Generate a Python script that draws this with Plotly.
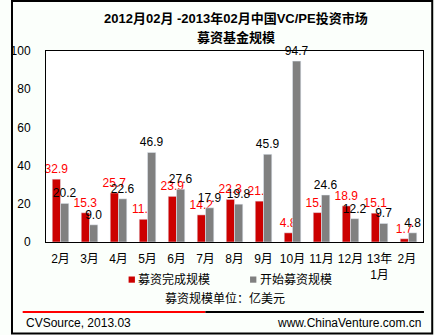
import plotly.graph_objects as go

months = ["2月", "3月", "4月", "5月", "6月", "7月", "8月", "9月", "10月", "11月", "12月", "13年<br>1月", "2月 "]
raised = [32.9, 15.3, 25.7, 11.9, 23.9, 14.2, 22.3, 21.4, 4.8, 15.4, 18.9, 15.1, 1.7]
started = [20.2, 9.0, 22.6, 46.9, 27.6, 17.9, 19.8, 45.9, 94.7, 24.6, 12.2, 9.7, 4.8]
y_ticks = [0, 20, 40, 60, 80, 100]
series_names = ["募资完成规模", "开始募资规模"]
series_colors = ["#CC0000", "#808080"]

W, H = 435, 335
L, R, T, B = 36, 424, 51, 242  # plot area in px

def px(x):
    return (x - L) / (R - L)

def py(y):
    return (B - y) / (B - T)

FONT = "Arial, Liberation Sans, Noto Sans CJK SC, sans-serif"

fig = go.Figure()
fig.add_bar(x=months, y=raised, name=series_names[0], marker_color=series_colors[0],
            text=[f"{v:.1f}" for v in raised], textposition="outside",
            textfont=dict(color="#FF0000", size=12, family=FONT),
            constraintext="none", cliponaxis=False)
fig.add_bar(x=months, y=started, name=series_names[1], marker_color=series_colors[1],
            text=[f"{v:.1f}" for v in started], textposition="outside",
            textfont=dict(color="#000000", size=12, family=FONT),
            constraintext="none", cliponaxis=False)

fig.update_layout(
    width=W, height=H,
    margin=dict(l=L, r=W - R, t=T, b=H - B, pad=0),
    paper_bgcolor="#FBFFFB", plot_bgcolor="#FFFFFF",
    barmode="group", bargap=0.43, bargroupgap=0,
    font=dict(family=FONT, size=12, color="#000000"),
    showlegend=False,
)
fig.update_yaxes(range=[0, 100], tickvals=y_ticks, showgrid=False, zeroline=False,
                 showline=True, linecolor="#000000", linewidth=1, mirror=True,
                 ticks="", ticklabelstandoff=12, tickfont=dict(size=12))
fig.update_xaxes(showgrid=False, showline=True, linecolor="#000000", linewidth=1,
                 mirror=True, ticks="", ticklabelstandoff=6, tickangle=0,
                 tickfont=dict(size=12))

# legend (squares + labels)
for sx, name, col in zip([121, 246], series_names, series_colors):
    fig.add_shape(type="rect", xref="paper", yref="paper", x0=px(sx), x1=px(sx + 6.5),
                  y0=py(282.7), y1=py(276.5), line=dict(width=0), fillcolor=col)
    fig.add_annotation(text=name, x=px(sx + 8), y=py(279.5), xref="paper", yref="paper",
                       showarrow=False, font=dict(size=12), xanchor="left", yanchor="middle")

# titles
fig.add_annotation(text="<b>2012月02月 -2013年02月中国VC/PE投资市场</b>", x=px(232), y=py(18),
                   xref="paper", yref="paper", showarrow=False, font=dict(size=13),
                   xanchor="center", yanchor="middle")
fig.add_annotation(text="<b>募资基金规模</b>", x=px(232), y=py(37),
                   xref="paper", yref="paper", showarrow=False, font=dict(size=13),
                   xanchor="center", yanchor="middle")
fig.add_annotation(text="募资规模单位：亿美元", x=px(220), y=py(298),
                   xref="paper", yref="paper", showarrow=False, font=dict(size=12),
                   xanchor="center", yanchor="middle")
fig.add_annotation(text="CVSource, 2013.03", x=px(13), y=py(323),
                   xref="paper", yref="paper", showarrow=False, font=dict(size=12),
                   xanchor="left", yanchor="middle")
fig.add_annotation(text="www.ChinaVenture.com.cn", x=px(424), y=py(323),
                   xref="paper", yref="paper", showarrow=False, font=dict(size=12),
                   xanchor="right", yanchor="middle")

# separator lines and outer frame
fig.add_shape(type="line", xref="paper", yref="paper", x0=px(12), x1=px(200),
              y0=py(312), y1=py(312), line=dict(color="#FF0000", width=2))
fig.add_shape(type="line", xref="paper", yref="paper", x0=px(200), x1=px(425),
              y0=py(312), y1=py(312), line=dict(color="#000000", width=2))
fig.add_shape(type="rect", xref="paper", yref="paper", x0=px(1), x1=px(433.5),
              y0=py(333.5), y1=py(1), line=dict(color="#000000", width=2))

fig.write_html("out.html")
